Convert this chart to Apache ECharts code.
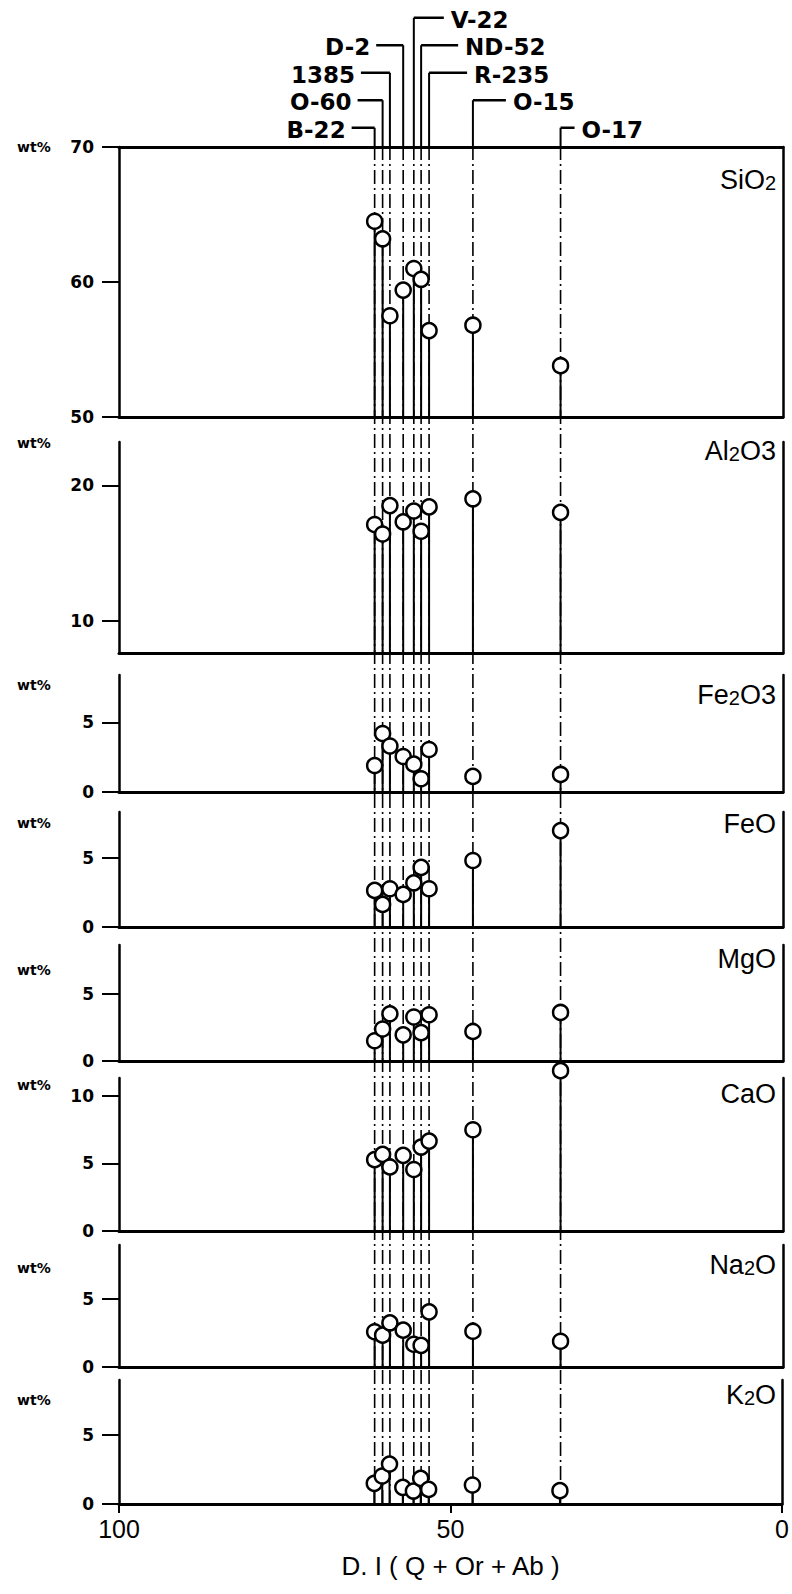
<!DOCTYPE html>
<html>
<head>
<meta charset="utf-8">
<script src="https://cdn.jsdelivr.net/npm/echarts@6.0.0/dist/echarts.min.js"></script>
<style>html,body{margin:0;padding:0;background:#fff}#c{width:792px;height:1594px}</style>
</head>
<body>
<div id="c"></div>
<script>
// ---------------- DATA ----------------
const samples = ['B-22', 'O-60', '1385', 'D-2', 'V-22', 'ND-52', 'R-235', 'O-15', 'O-17'];
const di = [61.5, 60.3, 59.2, 57.2, 55.6, 54.5, 53.3, 46.7, 33.5];   // D.I (Q+Or+Ab)
const labelLevel = [1, 2, 3, 4, 5, 4, 3, 2, 1];
const labelSide = ['left', 'left', 'left', 'left', 'right', 'right', 'right', 'right', 'right'];

const oxides = ['SiO2', 'Al2O3', 'Fe2O3', 'FeO', 'MgO', 'CaO', 'Na2O', 'K2O'];
const SiO2  = [64.5, 63.2, 57.5, 59.4, 61.0, 60.2, 56.4, 56.8, 53.8];
const Al2O3 = [17.1, 16.4, 18.5, 17.3, 18.1, 16.6, 18.4, 19.0, 18.0];
const Fe2O3 = [1.9, 4.2, 3.3, 2.55, 2.0, 0.95, 3.05, 1.12, 1.26];
const FeO   = [2.64, 1.63, 2.76, 2.35, 3.19, 4.3, 2.76, 4.8, 6.96];
const MgO   = [1.5, 2.37, 3.5, 1.94, 3.26, 2.1, 3.43, 2.19, 3.6];
const CaO   = [5.27, 5.66, 4.73, 5.59, 4.54, 6.2, 6.64, 7.48, 11.84];
const Na2O  = [2.6, 2.35, 3.26, 2.72, 1.68, 1.6, 4.07, 2.64, 1.9];
const K2O   = [1.5, 2.03, 2.9, 1.21, 0.94, 1.86, 1.06, 1.38, 0.97];

const axisMin = [50, 7.6, 0, 0, 0, 0, 0, 0];
const axisMax = [70, 23.2, 8.4, 8.3, 8.6, 11.3, 9.0, 9.0];
const yTicks = [[50, 60, 70], [10, 20], [0, 5], [0, 5], [0, 5], [0, 5, 10], [0, 5], [0, 5]];
const xTickInterval = 50;   // 100, 50, 0
const xTitle = 'D. I ( Q + Or + Ab )';
const yUnit = 'wt%';

// ---------------- LAYOUT / STYLE ----------------
const panelTop    = [147, 442, 675, 812, 945, 1078, 1245, 1380];
const panelBottom = [417, 653, 792, 927, 1061, 1231, 1367, 1504];
const GL = 119, GR = 9;
const nameY = [178, 449, 693, 822, 957, 1092, 1263, 1393];
const unitY = [147, 443, 685, 823, 970, 1085, 1268, 1400];
const leaderLen = [23, 25, 29, 27, 30, 37, 38, 33, 14];
const LABEL_MIN = 0.3, LABEL_MAX = 5.5;
const oxideRich = {
  SiO2: '{m|SiO}{s|2}', Al2O3: '{m|Al}{s|2}{m|O3}', Fe2O3: '{m|Fe}{s|2}{m|O3}',
  FeO: '{m|FeO}', MgO: '{m|MgO}', CaO: '{m|CaO}', Na2O: '{m|Na}{s|2}{m|O}', K2O: '{m|K}{s|2}{m|O}'
};
const values = [SiO2, Al2O3, Fe2O3, FeO, MgO, CaO, Na2O, K2O];
const INK = '#000';

const grid = [], xAxis = [], yAxis = [], series = [], graphic = [];
for (let i = 0; i < 8; i++) {
  grid.push({left: GL, right: GR, top: panelTop[i], height: panelBottom[i] - panelTop[i]});
}
grid.push({left: GL, right: GR, top: panelTop[0], height: panelBottom[7] - panelTop[0]}); // 8 overlay
grid.push({left: GL, right: GR, top: 4, height: panelTop[0] - 4});                        // 9 labels

const xBase = (gi) => ({gridIndex: gi, type: 'value', min: 0, max: 100, inverse: true,
  interval: xTickInterval, splitLine: {show: false}});
for (let i = 0; i < 8; i++) {
  const last = i === 7;
  xAxis.push(Object.assign(xBase(i), {
    axisLine: {show: true, onZero: false, lineStyle: {color: INK, width: 3}},
    axisTick: {show: last, length: 9, lineStyle: {color: INK, width: 2}},
    axisLabel: {show: last, margin: 12, fontSize: 25, fontFamily: 'Liberation Sans', color: INK},
    name: last ? xTitle : '', nameLocation: 'middle', nameGap: 49,
    nameTextStyle: {fontSize: 26, fontFamily: 'Liberation Sans', color: INK}
  }));
}
xAxis.push(Object.assign(xBase(0), {position: 'top',
  axisLine: {show: true, onZero: false, lineStyle: {color: INK, width: 3}},
  axisTick: {show: false}, axisLabel: {show: false}}));                 // 8
xAxis.push(Object.assign(xBase(8), {show: false}));                     // 9
xAxis.push(Object.assign(xBase(9), {show: false}));                     // 10

for (let i = 0; i < 8; i++) {
  yAxis.push({gridIndex: i, type: 'value', min: axisMin[i], max: axisMax[i], position: 'left',
    axisLine: {show: true, onZero: false, lineStyle: {color: INK, width: 2.5}},
    axisTick: {show: true, customValues: yTicks[i], length: 17, lineStyle: {color: INK, width: 2}},
    axisLabel: {show: true, customValues: yTicks[i], margin: 25, fontSize: 17, fontWeight: 'bold',
      fontFamily: 'DejaVu Sans', color: INK},
    splitLine: {show: false}});
}
for (let i = 0; i < 8; i++) {
  yAxis.push({gridIndex: i, type: 'value', min: axisMin[i], max: axisMax[i], position: 'right',
    axisLine: {show: true, onZero: false, lineStyle: {color: INK, width: 2.5}},
    axisTick: {show: false}, axisLabel: {show: false}, splitLine: {show: false}});
}
yAxis.push({gridIndex: 8, type: 'value', min: 0, max: 1, show: false});                 // 16
yAxis.push({gridIndex: 9, type: 'value', min: LABEL_MIN, max: LABEL_MAX, show: false}); // 17

// dash-dot continuation lines through the whole stack
series.push({type: 'custom', xAxisIndex: 9, yAxisIndex: 16, clip: false, z: 1, silent: true,
  data: di.map(d => [d, 0]), encode: {x: 0, y: 1},
  renderItem: (params, api) => {
    const b = api.coord([api.value(0), 0]);
    const t = api.coord([api.value(0), 1]);
    return {type: 'line', shape: {x1: b[0], y1: b[1], x2: t[0], y2: t[1]},
      style: {stroke: INK, lineWidth: 1.6, lineDash: [14, 4, 2, 4]}};
  }});

// sample labels with leaders
series.push({type: 'custom', xAxisIndex: 10, yAxisIndex: 17, clip: false, z: 1, silent: true,
  data: di.map((d, k) => [d, labelLevel[k]]), encode: {x: 0, y: 1},
  renderItem: (params, api) => {
    const k = params.dataIndex;
    const p = api.coord([api.value(0), api.value(1)]);
    const b = api.coord([api.value(0), LABEL_MIN]);
    const left = labelSide[k] === 'left';
    const hx = left ? p[0] - leaderLen[k] : p[0] + leaderLen[k];
    return {type: 'group', children: [
      {type: 'line', shape: {x1: p[0], y1: b[1], x2: p[0], y2: p[1]}, style: {stroke: INK, lineWidth: 2}},
      {type: 'line', shape: {x1: p[0], y1: p[1], x2: hx, y2: p[1]}, style: {stroke: INK, lineWidth: 2.5}},
      {type: 'text', x: left ? hx - 6 : hx + 7, y: p[1] + 2,
        style: {text: samples[k], align: left ? 'right' : 'left', verticalAlign: 'middle',
          fontSize: 23, fontWeight: 'bold', fontFamily: 'DejaVu Sans', fill: INK}}
    ]};
  }});

for (let i = 0; i < 8; i++) {
  const pts = di.map((d, k) => [d, values[i][k]]);
  series.push({type: 'custom', xAxisIndex: i, yAxisIndex: i, clip: false, z: 2, silent: true,
    data: pts, encode: {x: 0, y: 1},
    renderItem: (params, api) => {
      const p = api.coord([api.value(0), api.value(1)]);
      const b = api.coord([api.value(0), axisMin[i]]);
      return {type: 'line', shape: {x1: p[0], y1: b[1], x2: p[0], y2: p[1]},
        style: {stroke: INK, lineWidth: 2}};
    }});
  series.push({type: 'scatter', xAxisIndex: i, yAxisIndex: i, clip: false, z: 3, silent: true,
    symbol: 'circle', symbolSize: 15, data: pts,
    itemStyle: {color: '#fff', borderColor: INK, borderWidth: 2.5, opacity: 1}});

  graphic.push({type: 'text', x: 776, y: nameY[i], z: 10,
    style: {text: oxideRich[oxides[i]], align: 'right', verticalAlign: 'middle',
      rich: {
        m: {fontSize: 27, fontFamily: 'Liberation Sans', fill: INK, color: INK, lineHeight: 30, verticalAlign: 'bottom'},
        s: {fontSize: 20, fontFamily: 'Liberation Sans', fill: INK, color: INK, lineHeight: 14, verticalAlign: 'bottom'}
      }}});
  graphic.push({type: 'text', x: 17, y: unitY[i], z: 10,
    style: {text: yUnit, align: 'left', verticalAlign: 'middle', fontSize: 14, fontWeight: 'bold',
      fontFamily: 'DejaVu Sans', fill: INK}});
}

const chart = echarts.init(document.getElementById('c'), null, {renderer: 'svg', width: 792, height: 1594});
chart.setOption({animation: false, backgroundColor: '#fff', grid, xAxis, yAxis, series, graphic});
</script>
</body>
</html>
